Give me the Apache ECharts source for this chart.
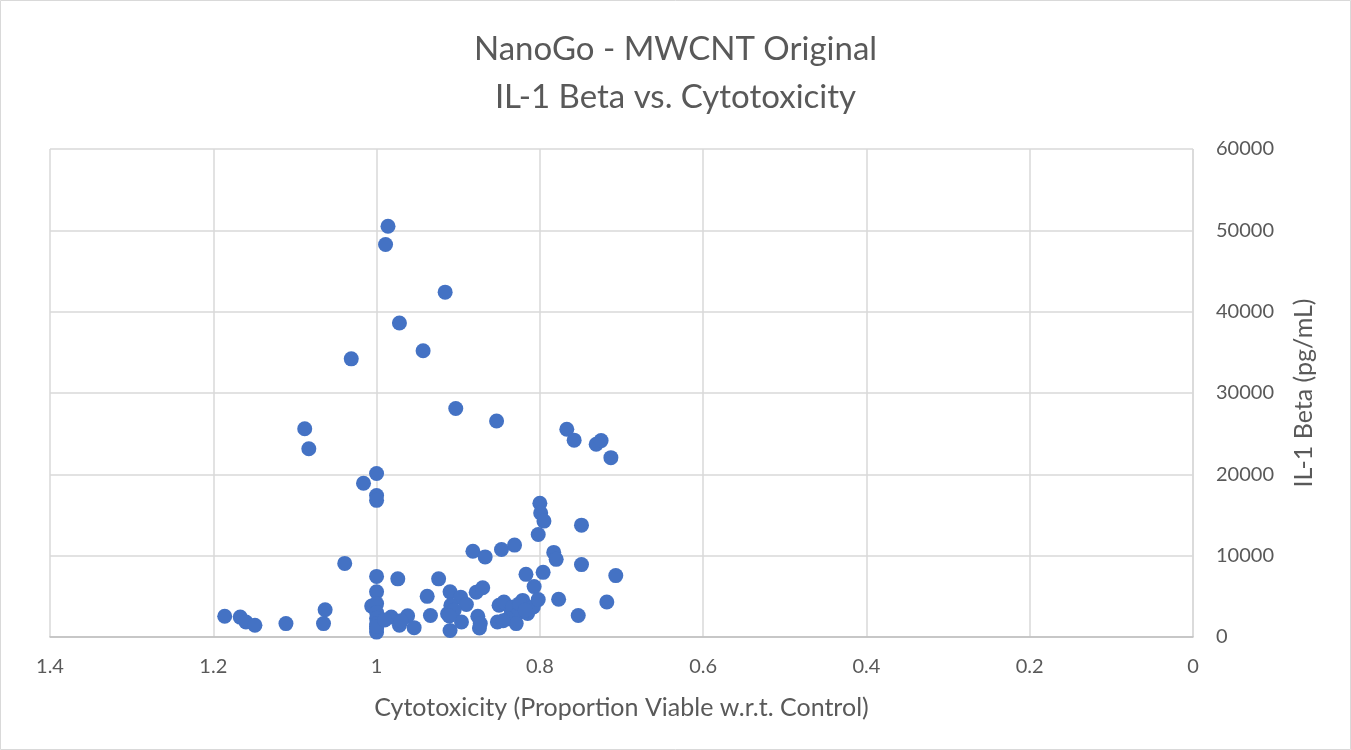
<!DOCTYPE html>
<html>
<head>
<meta charset="utf-8">
<script src="https://cdn.jsdelivr.net/npm/echarts@6/dist/echarts.min.js"></script>
<style>
  html, body { margin: 0; padding: 0; background: #fff; }
  #chart { width: 1351px; height: 750px; }
</style>
</head>
<body>
<div id="chart"></div>
<script>
// cytotoxicity (proportion viable) for each sample
var viability = [
  0.986, 0.989, 0.916, 0.972, 0.943, 1.031, 0.903, 0.853, 1.088, 1.083,
  0.767, 0.758, 0.731, 0.725, 0.713, 1.000, 1.016, 1.000, 1.000, 0.800,
  0.799, 0.795, 0.749, 0.802, 0.882, 0.867, 0.847, 0.831, 0.783, 0.780,
  0.749, 0.707, 0.796, 0.817, 0.807, 1.039, 1.000, 0.974, 0.924, 1.000,
  1.006, 1.000, 1.000, 1.000, 1.000, 1.000, 1.000, 0.982, 0.972, 0.962,
  0.954, 0.938, 0.934, 0.910, 0.897, 0.890, 0.909, 0.913, 0.905, 0.910,
  0.896, 0.878, 0.870, 0.876, 0.874, 0.873, 0.850, 0.844, 0.835, 0.833,
  0.829, 0.839, 0.852, 0.829, 0.821, 0.815, 0.808, 0.802, 0.777, 0.753,
  0.718, 1.186, 1.167, 1.160, 1.149, 1.111, 1.063, 1.065, 0.911, 0.825,
  0.818, 0.845, 1.000, 0.970, 0.990
];
// IL-1 beta concentration (pg/mL) for the same samples
var il1Beta = [
  50500, 48250, 42400, 38600, 35200, 34200, 28100, 26550, 25600, 23150,
  25550, 24200, 23700, 24150, 22050, 20100, 18900, 17400, 16800, 16450,
  15250, 14250, 13750, 12600, 10550, 9850, 10750, 11300, 10400, 9550,
  8900, 7550, 7950, 7700, 6200, 9050, 7450, 7150, 7150, 5550,
  3800, 4100, 3000, 2300, 1600, 1000, 600, 2450, 1450, 2600,
  1150, 5000, 2650, 5550, 4900, 4000, 3900, 2850, 3300, 800,
  1850, 5500, 6050, 2550, 1100, 1650, 3900, 4300, 3250, 3700,
  2650, 2250, 1850, 1650, 4500, 2900, 3700, 4600, 4650, 2650,
  4300, 2550, 2450, 1850, 1450, 1650, 3350, 1650, 2600, 4100,
  3300, 2000, 1300, 2000, 2100
];
var titleLines = ['NanoGo - MWCNT Original', 'IL-1 Beta vs. Cytotoxicity'];
var xName = 'Cytotoxicity (Proportion Viable w.r.t. Control)';
var yName = 'IL-1 Beta (pg/mL)';

var points = viability.map(function (v, i) { return [v, il1Beta[i]]; });

var font = 'Lato, "Open Sans", sans-serif';
var grey = '#595959';

var chart = echarts.init(document.getElementById('chart'));
chart.setOption({
  animation: false,
  backgroundColor: '#fff',
  title: {
    text: titleLines.join('\n'),
    left: 'center',
    top: 20,
    textStyle: { fontFamily: font, fontSize: 33, fontWeight: 'normal', color: grey, lineHeight: 48 }
  },
  grid: { left: 50, right: 158, top: 149, bottom: 113 },
  xAxis: {
    type: 'value',
    inverse: true,
    min: 0,
    max: 1.4,
    interval: 0.2,
    name: xName,
    nameLocation: 'middle',
    nameGap: 58,
    nameTextStyle: { fontFamily: font, fontSize: 25, color: grey },
    axisLine: { show: true, lineStyle: { color: '#bfbfbf', width: 1.5 } },
    axisTick: { show: false },
    axisLabel: { fontFamily: font, fontSize: 20, color: grey, margin: 20,
      formatter: function (v) { return String(+v.toFixed(1)); } },
    splitLine: { show: true, lineStyle: { color: '#d9d9d9', width: 1.5 } }
  },
  yAxis: {
    type: 'value',
    position: 'right',
    min: 0,
    max: 60000,
    interval: 10000,
    name: yName,
    nameLocation: 'middle',
    nameGap: 98,
    nameRotate: 90,
    nameTextStyle: { fontFamily: font, fontSize: 25, color: grey },
    axisLine: { show: false },
    axisTick: { show: false },
    axisLabel: { fontFamily: font, fontSize: 20, color: grey, margin: 23, align: 'left',
      formatter: function (v) { return String(v); } },
    splitLine: { show: true, lineStyle: { color: '#d9d9d9', width: 1.5 } }
  },
  graphic: [{
    type: 'rect',
    shape: { x: 0.5, y: 0.5, width: 1350, height: 749 },
    style: { fill: 'none', stroke: '#d9d9d9', lineWidth: 1 },
    silent: true
  }, {
    type: 'line',
    shape: { x1: 1193, y1: 149, x2: 1193, y2: 637 },
    style: { stroke: '#d9d9d9', lineWidth: 1.5 },
    silent: true
  }],
  series: [{
    type: 'scatter',
    data: points,
    symbol: 'circle',
    symbolSize: 15,
    itemStyle: { color: '#4472c4', opacity: 1 }
  }]
});
</script>
</body>
</html>
